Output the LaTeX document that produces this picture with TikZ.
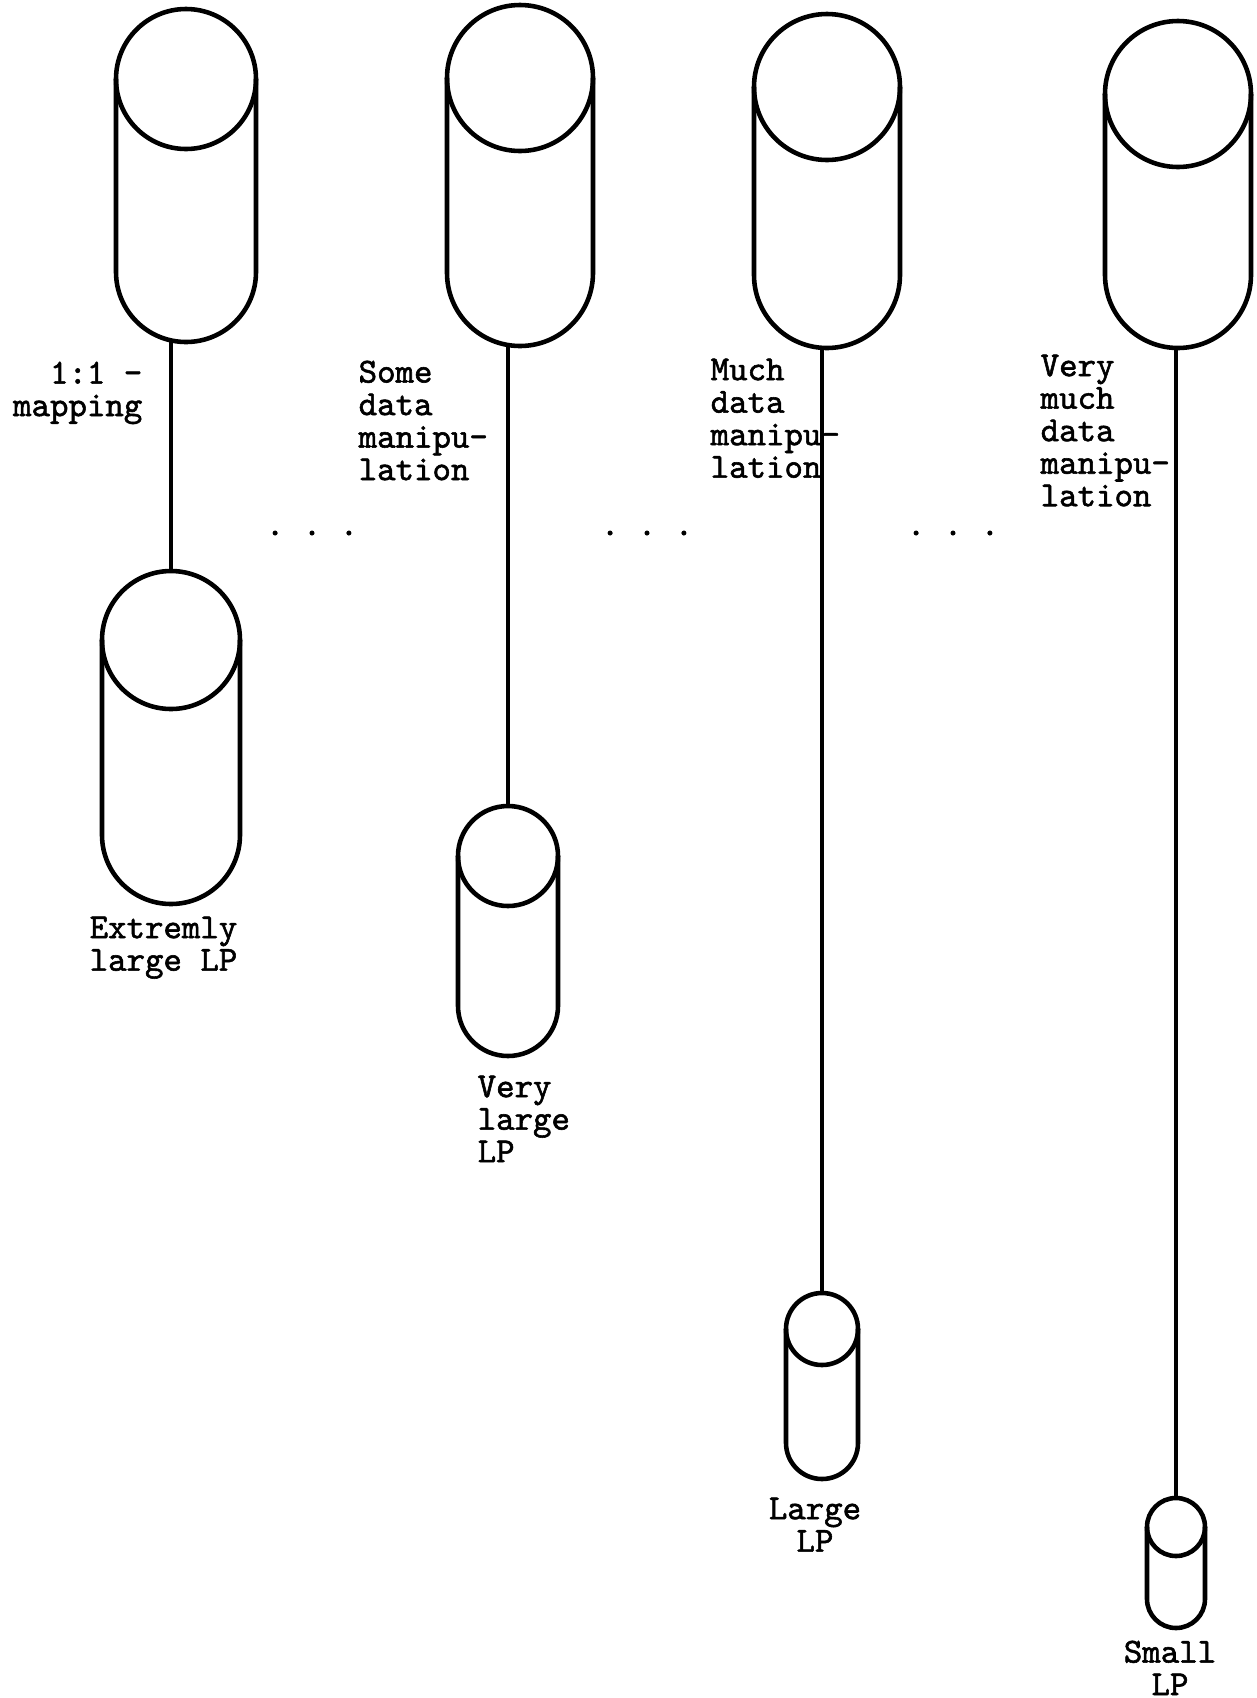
\documentclass[tikz,border=0pt]{standalone}
\usepackage{fontspec}
\usepackage{tikz}
\setmonofont{Latin Modern Mono}[RawFeature={embolden=1.6}]

% cylinder: name, centre x, top y, radius, bottom y (y counted downwards)
\newcommand{\lpdisk}[5]{%
  \draw[disk] (#2-#4,-#3-#4) arc[start angle=180,end angle=0,radius=#4]
    -- (#2+#4,-#5+#4) arc[start angle=0,end angle=-180,radius=#4] -- cycle;
  \draw[disk] (#2-#4,-#3-#4) arc[start angle=180,end angle=360,radius=#4];
  \coordinate (#1-t) at (#2,-#3);
  \coordinate (#1-b) at (#2,-#5);
}

\begin{document}
\begin{tikzpicture}[x=0.1mm,y=0.1mm,
    disk/.style={line width=1.3pt},
    link/.style={line width=1.3pt},
    lab/.style={font=\fontsize{10}{9.25}\selectfont\ttfamily,inner sep=0pt}]
        \useasboundingbox (0,0) rectangle (1256,-1698);
        \lpdisk{db1}{186}{9}{70}{342}
        \lpdisk{db2}{520}{5}{73}{346}
        \lpdisk{db3}{827}{14}{73}{348}
        \lpdisk{db4}{1178}{21}{73}{348}
        \lpdisk{lp1}{171}{571}{69}{904}
        \lpdisk{lp2}{508}{806}{50}{1056}
        \lpdisk{lp3}{822}{1293}{36}{1479}
        \lpdisk{lp4}{1176}{1498}{29}{1628}
        \draw [link] (lp1-t |- db1-b) -- (lp1-t);
        \draw [link] (lp2-t |- db2-b) -- (lp2-t);
        \draw [link] (lp3-t |- db3-b) -- (lp3-t);
        \draw [link] (lp4-t |- db4-b) -- (lp4-t);
        \node [lab, anchor=north east, align=right] (map) at (143,-361) {1:1 -\\mapping};
        \node [lab, anchor=north west, align=left] (some) at (358,-360) {Some\\data\\manipu-\\lation};
        \node [lab, anchor=north west, align=left] (much) at (710,-358) {Much\\data\\manipu-\\lation};
        \node [lab, anchor=north west, align=left] (vmuch) at (1040,-354) {Very\\much\\data\\manipu-\\lation};
        \node [lab] (gap1) at (312,-533) {. . .};
        \node [lab] (gap2) at (647,-533) {. . .};
        \node [lab] (gap3) at (953,-533) {. . .};
        \node [lab, anchor=north west, align=left] (xlarge) at (89,-916) {Extremly\\large LP};
        \node [lab, anchor=north west, align=left] (vlarge) at (477,-1075) {Very\\large\\LP};
        \node [lab, anchor=north, align=center] (large) at (815,-1497) {Large\\LP};
        \node [lab, anchor=north, align=center] (small) at (1170,-1640) {Small\\LP};
      \end{tikzpicture}
\end{document}
